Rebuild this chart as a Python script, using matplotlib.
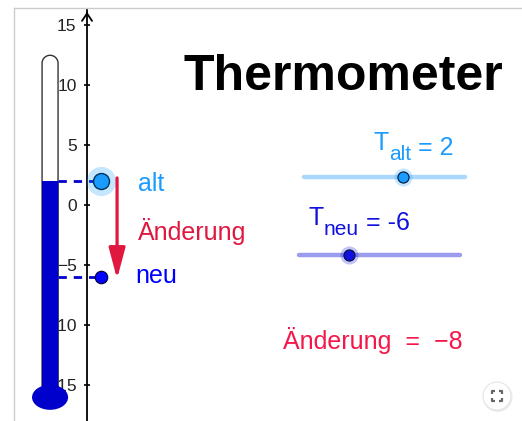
import numpy as np
import matplotlib
matplotlib.use("Agg")
import matplotlib.pyplot as plt
from matplotlib.patches import Rectangle, Ellipse, Circle, PathPatch
from matplotlib.path import Path
from matplotlib.lines import Line2D

plt.rcParams['font.family'] = ['Liberation Sans', 'DejaVu Sans']

# values
t_alt = 2
t_neu = -6
change = t_neu - t_alt
y_ticks = [-15, -10, -5, 0, 5, 10, 15]
slider_min, slider_max = -14, 12

# colors
c_alt = '#1a9cff'
c_neu = '#0000ff'
c_fill = '#0000cc'
c_change = '#e0173f'
c_change2 = '#f5174a'

fig = plt.figure(figsize=(5.22, 4.21), dpi=100)
ax = fig.add_axes([0, 0, 1, 1])
ax.set_xlim(-7.24, 36.19)
ax.set_ylim(-17.97, 17.05)

# y axis through x = 0 with arrow on top
for s in ['top', 'right', 'bottom']:
    ax.spines[s].set_visible(False)
ax.spines['left'].set_position(('data', 0))
ax.spines['left'].set_bounds(-18, 16.2)
ax.spines['left'].set_linewidth(1.3)
ax.annotate('', xy=(0, 16.3), xytext=(0, 15.6),
            arrowprops=dict(arrowstyle='->,head_length=0.45,head_width=0.3',
                            lw=1.3, color='black', mutation_scale=12))
ax.set_xticks([])
ax.set_yticks(y_ticks)
ax.set_yticklabels([str(t).replace('-', '\u2212') for t in y_ticks])
ax.tick_params(axis='y', direction='inout', length=5, width=1.2, pad=5,
               labelsize=12.5, labelcolor='#222222')

# thermometer tube
x_l, x_r = -3.74, -2.41
xc = (x_l + x_r) / 2
r = (x_r - x_l) / 2
top = 12.45
ang = np.linspace(np.pi, 0, 30)
verts = [(x_l, -16)] + [(x_l, top - r)] + \
        list(zip(xc + r * np.cos(ang), top - r + r * np.sin(ang))) + [(x_r, -16)]
ax.add_patch(PathPatch(Path(verts), facecolor='white', edgecolor='#333333',
                       lw=1.0, zorder=3))
ax.add_patch(Rectangle((x_l, -16), x_r - x_l, t_alt + 16, facecolor=c_fill,
                       edgecolor='none', zorder=4))
ax.plot([x_l, x_l], [-16, t_alt], color='#000066', lw=0.5, alpha=0.5, zorder=4)
ax.plot([x_r, x_r], [-16, t_alt], color='#000066', lw=0.5, alpha=0.5, zorder=4)
ax.add_patch(Ellipse((xc, -16), 3.0, 2.08, facecolor=c_fill, edgecolor='none', zorder=4))

# dashed lines to the points
px = 1.16
for t in [t_alt, t_neu]:
    ax.plot([x_r, px], [t, t], color='#0000cc', lw=2, dashes=(3, 2.5), zorder=5)

# points
ax.plot(px, t_alt, 'o', ms=21, color=c_alt, alpha=0.25, mec='none', zorder=5)
ax.plot(px, t_alt, 'o', ms=11.5, color=c_alt, mec='#003355', mew=1.0, zorder=6)
ax.plot(px, t_neu, 'o', ms=9, color=c_neu, mec='#000033', mew=0.8, zorder=6)

# arrow of change
ax.annotate('', xy=(2.5, t_neu - 0.15), xytext=(2.5, t_alt + 0.25),
            arrowprops=dict(arrowstyle='-|>,head_length=0.75,head_width=0.2',
                            lw=2.3, color=c_change, mutation_scale=25,
                            shrinkA=0, shrinkB=0), zorder=5)

ax.text(4.27, 1.19, 'alt', color=c_alt, fontsize=18, va='baseline')
ax.text(4.27, -2.91, 'Änderung', color=c_change, fontsize=18, va='baseline')
ax.text(3.99, -6.49, 'neu', color=c_neu, fontsize=18, va='baseline')

# title
ax.text(7.99, 9.57, 'Thermometer', fontsize=36, fontweight='bold', va='baseline')

# sliders
sliders = [
    (t_alt, 'alt', 18.05, 31.45, 2.30, '#a8d8fb', c_alt, 23.82, 4.58),
    (t_neu, 'neu', 17.66, 31.03, -4.16, '#9c9cee', '#1010e0', 18.39, -1.66),
]
for val, name, x0, x1, y0, lc, pc, lx, ly in sliders:
    ax.plot([x0, x1], [y0, y0], color=lc, lw=3.2, solid_capstyle='round', zorder=3)
    xv = x0 + (val - slider_min) / (slider_max - slider_min) * (x1 - x0)
    ax.plot(xv, y0, 'o', ms=13, color=pc, alpha=0.25, mec='none', zorder=4)
    ax.plot(xv, y0, 'o', ms=8, color=pc, mec='#001133', mew=0.8, zorder=5)
    t_txt = ax.text(lx, ly, 'T', color=pc, fontsize=18, va='baseline')
    sub = ax.annotate(name, xy=(1, 0), xycoords=t_txt, xytext=(0.5, -4),
                      textcoords='offset points', color=pc, fontsize=15,
                      va='baseline', ha='left')
    ax.annotate(' = ' + str(val), xy=(1, 0), xycoords=sub, xytext=(0, 7),
                textcoords='offset points', color=pc, fontsize=18,
                va='baseline', ha='left')

# change result
ax.text(16.31, -11.98, 'Änderung  =  \u2212' + str(abs(change)), color=c_change2,
        fontsize=18, va='baseline')

# fullscreen button
bx, by, br = 34.11, -15.89, 1.16
ax.add_patch(Circle((bx + 0.05, by - 0.08), br + 0.08, facecolor='#dddddd',
                    edgecolor='none', alpha=0.6, zorder=6))
ax.add_patch(Circle((bx, by), br, facecolor='white', edgecolor='#e6e6e6', lw=0.8, zorder=7))
h, k = 0.42, 0.24
for sx in (-1, 1):
    for sy in (-1, 1):
        ax.plot([bx + sx * h, bx + sx * h, bx + sx * (h - k)],
                [by + sy * (h - k), by + sy * h, by + sy * h],
                color='#666666', lw=1.6, zorder=8, solid_capstyle='butt')

# frame of the applet
fig.add_artist(Line2D([14 / 522, 14 / 522], [0, 1 - 8 / 421], color='#cccccc', lw=1))
fig.add_artist(Line2D([14 / 522, 1], [1 - 8 / 421, 1 - 8 / 421], color='#cccccc', lw=1))

fig.savefig('out.png', dpi=100)
